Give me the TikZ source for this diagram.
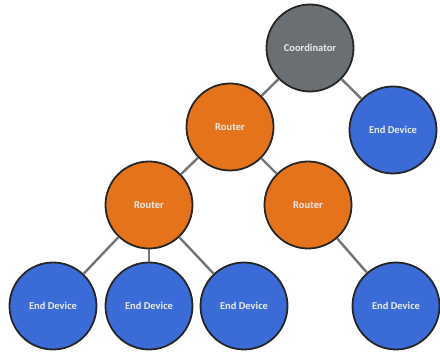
\documentclass[tikz,border=0pt]{standalone}
\usepackage{fontspec}
\setmainfont{Carlito}
\begin{document}
\begin{tikzpicture}[x=1pt,y=1pt,
  dev/.style={circle, draw=black!85, line width=1.8pt, minimum size=87pt, inner sep=0pt,
    text=white!92!black, font=\fontsize{10.5}{12}\selectfont\bfseries},
  coord/.style={dev, fill=coordgray},
  router/.style={dev, fill=routerorange},
  enddev/.style={dev, fill=endblue},
  link/.style={draw=linkgray, line width=2.4pt}]
\definecolor{coordgray}{HTML}{6A6F73}
\definecolor{routerorange}{HTML}{E5731C}
\definecolor{endblue}{HTML}{3A6BD6}
\definecolor{linkgray}{HTML}{757575}
\useasboundingbox (0,0) rectangle (440,352);
\node[coord] (c) at (310,304) {Coordinator};
\node[enddev] (e1) at (393,222) {End Device};
\node[router] (r1) at (230,225) {Router};
\node[router] (r2) at (149,147) {Router};
\node[router] (r3) at (308,147) {Router};
\node[enddev] (e2) at (53,46) {End Device};
\node[enddev] (e3) at (149,46) {End Device};
\node[enddev] (e4) at (244,46) {End Device};
\node[enddev] (e5) at (396,46) {End Device};
\draw[link] (c) -- (r1);
\draw[link] (c) -- (e1);
\draw[link] (r1) -- (r2);
\draw[link] (r1) -- (r3);
\draw[link] (r2) -- (e2);
\draw[link] (r2) -- (e3);
\draw[link] (r2) -- (e4);
\draw[link] (r3) -- (e5);
\end{tikzpicture}
\end{document}
